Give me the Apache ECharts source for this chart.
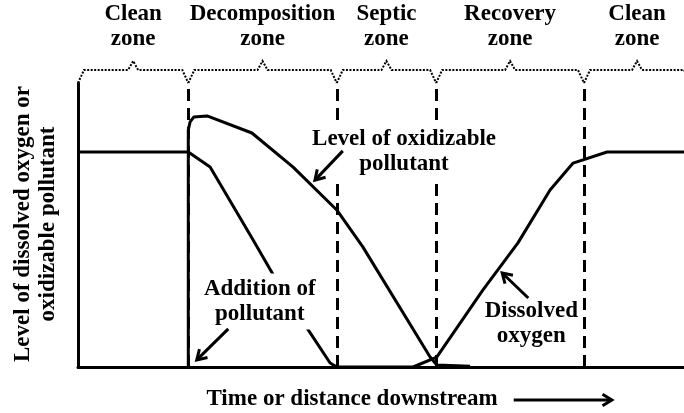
<!DOCTYPE html>
<html><head><meta charset="utf-8">
<script src="https://cdn.jsdelivr.net/npm/echarts@6/dist/echarts.min.js"></script>
<style>html,body{margin:0;padding:0;background:#fff}#c{width:684px;height:413px}</style>
</head><body><div id="c"></div>
<script>
// ---- data ----
const zoneNames = ['Clean\nzone', 'Decomposition\nzone', 'Septic\nzone', 'Recovery\nzone', 'Clean\nzone'];
const zoneBounds = [0, 18.2, 42.7, 59.1, 83.5, 101];
const dissolvedOxygen = [[0,75.7],[18.2,75.7],[21.8,70.4],[28.9,44.7],[33.0,29.6],[37.8,13.7],[41.6,1.4],[42.7,0],[55.3,0],[59.2,3.5],[66.8,27.1],[72.6,43.7],[77.9,62.3],[81.7,71.8],[87.3,75.7],[100,75.7]];
const pollutant = [[18.2,0],[18.2,83.5],[18.5,86.3],[19.1,88.0],[21.3,88.4],[28.7,82.4],[35.5,70.4],[42.7,55.3],[47.0,42.3],[58.1,3.5],[59.2,0.7],[64.7,0.3]];
const annoTexts = ['Level of oxidizable\npollutant', 'Addition of\npollutant', 'Dissolved\noxygen'];
const annoAt = [[53.8,75.7],[30.0,23.1],[74.8,15.3]];
const annoTail = [[43.7,76.1],[24.8,13.4],[74.3,24.3]];
const annoHead = [[39.1,65.8],[19.6,2.5],[70.0,33.1]];
const yTitle = 'Level of dissolved oxygen or\noxidizable pollutant';
const xTitle = 'Time or distance downstream';
const xTitleArrow = [71.9, 88.1];

// ---- chart ----
const FONT = 'bold 23px "Liberation Serif", "Times New Roman", serif';
const chart = echarts.init(document.getElementById('c'));
const lineStyle = {color:'#000', width:3, join:'round'};
chart.setOption({
  animation:false,
  backgroundColor:'#fff',
  grid:{left:78, right:0, top:83, bottom:46, containLabel:false},
  xAxis:{type:'value', min:0, max:100, axisLine:{show:true, lineStyle:{color:'#000', width:3}},
    axisTick:{show:false}, axisLabel:{show:false}, splitLine:{show:false}},
  yAxis:{type:'value', min:0, max:100, axisLine:{show:true, lineStyle:{color:'#000', width:3}},
    axisTick:{show:false}, axisLabel:{show:false}, splitLine:{show:false}},
  series:[
    {name:'Dissolved oxygen', type:'line', data:dissolvedOxygen, symbol:'none', clip:false,
     lineStyle:lineStyle, z:3,
     markLine:{silent:true, symbol:['none','none'], label:{show:false},
       lineStyle:{color:'#000', width:3, type:[12,7]},
       data:zoneBounds.slice(1, zoneBounds.length-1).map(v => ({xAxis:v}))}},
    {name:'Oxidizable pollutant', type:'line', data:pollutant, symbol:'none', clip:false,
     lineStyle:lineStyle, z:4}
  ]
});

function px(p){ return chart.convertToPixel({gridIndex:0}, p); }
function arrowShapes(t, h, len){
  const ang = Math.atan2(h[1]-t[1], h[0]-t[0]);
  const a1 = ang + Math.PI - 0.55, a2 = ang + Math.PI + 0.55;
  return [
    {type:'polyline', z:20, shape:{points:[t,h]}, style:{stroke:'#000', lineWidth:3, fill:null}},
    {type:'polyline', z:20, shape:{points:[[h[0]+len*Math.cos(a1), h[1]+len*Math.sin(a1)], h, [h[0]+len*Math.cos(a2), h[1]+len*Math.sin(a2)]]},
     style:{stroke:'#000', lineWidth:3, fill:null, lineJoin:'miter'}}
  ];
}

const g = [];
const gridTop = 83;
// zone braces + names
for (let i = 0; i < zoneNames.length; i++) {
  const L = px([zoneBounds[i], 0])[0], R = px([zoneBounds[i+1], 0])[0], M = (L+R)/2;
  g.push({type:'polyline', z:10, shape:{points:[[L,gridTop],[L+6,gridTop-13],[M-5,gridTop-13],[M,gridTop-22],[M+5,gridTop-13],[R-6,gridTop-13],[R,gridTop]]},
    style:{stroke:'#000', lineWidth:2, lineDash:[2,1.5], fill:null}});
  g.push({type:'text', z:10, style:{text:zoneNames[i], x:M, y:27, font:FONT, align:'center', verticalAlign:'middle', lineHeight:25, fill:'#000'}});
}
// annotations (white box behind text hides lines, as in the original)
for (let i = 0; i < annoTexts.length; i++) {
  const c = px(annoAt[i]);
  g.push({type:'text', z:15, style:{text:annoTexts[i], x:c[0], y:c[1], font:FONT, align:'center', verticalAlign:'middle', lineHeight:25, fill:'#000',
    backgroundColor:'#fff', padding:[3,1]}});
  arrowShapes(px(annoTail[i]), px(annoHead[i]), 11).forEach(s => g.push(s));
}
// axis titles
g.push({type:'text', z:10, rotation:Math.PI/2, x:35.5, y:224,
  style:{text:yTitle, x:0, y:0, font:FONT, align:'center', verticalAlign:'middle', lineHeight:25, fill:'#000'}});
g.push({type:'text', z:10, style:{text:xTitle, x:352, y:399, font:FONT, align:'center', verticalAlign:'middle', fill:'#000'}});
arrowShapes([px([xTitleArrow[0],0])[0], 400], [px([xTitleArrow[1],0])[0], 400], 11).forEach(s => g.push(s));
chart.setOption({graphic:g});
</script>
</body></html>
